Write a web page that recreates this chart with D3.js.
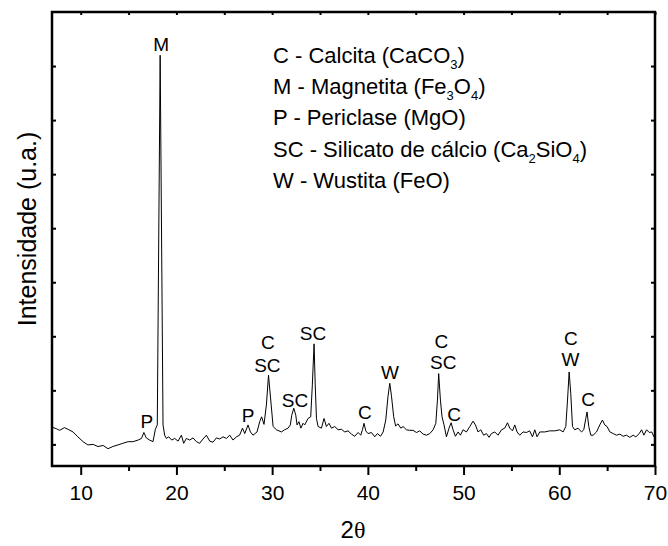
<!DOCTYPE html>
<html>
<head>
<meta charset="utf-8">
<script src="https://cdn.jsdelivr.net/npm/d3@7"></script>
<style>
  html, body { margin: 0; padding: 0; background: #fff; }
  svg { display: block; font-family: "Liberation Sans", Arial, sans-serif; }
</style>
</head>
<body>
<div id="chart"></div>
<script>
// XRD pattern
const twoTheta = [
  7.0, 7.45, 7.8, 8.3, 8.65, 9.2, 9.7, 10.25, 10.75, 11.3, 11.8, 12.35, 12.85, 13.35, 13.9, 14.4,
  14.95, 15.45, 16.0, 16.35, 16.6, 16.85, 17.2, 17.55, 17.8, 18.0, 18.3, 18.6, 18.77, 18.95, 19.2,
  19.5, 19.82, 20.17, 20.52, 20.76, 21.04, 21.39, 21.73, 22.09, 22.43, 22.78, 23.13, 23.48, 23.82,
  24.18, 24.52, 24.87, 25.22, 25.57, 25.91, 26.27, 26.6, 26.9, 27.14, 27.48, 27.73, 28.0, 28.42,
  28.7, 28.9, 29.15, 29.4, 29.62, 29.9, 30.1, 30.45, 30.97, 31.3, 31.66, 31.9, 32.05, 32.26, 32.47,
  32.6, 32.8, 33.0, 33.23, 33.4, 33.75, 34.03, 34.2, 34.38, 34.5, 34.63, 34.8, 35.15, 35.42, 35.67,
  35.94, 36.2, 36.54, 36.89, 37.24, 37.59, 37.93, 38.29, 38.63, 38.98, 39.26, 39.43, 39.6, 39.78,
  40.02, 40.37, 40.72, 41.0, 41.32, 41.6, 41.87, 42.1, 42.29, 42.46, 42.7, 42.9, 43.15, 43.44,
  43.68, 44.03, 44.38, 44.72, 45.08, 45.42, 45.77, 46.12, 46.47, 46.82, 47.1, 47.27, 47.4, 47.58,
  47.75, 47.96, 48.21, 48.48, 48.7, 48.9, 49.15, 49.43, 49.67, 49.95, 50.3, 50.65, 50.99, 51.24,
  51.51, 51.8, 52.1, 52.39, 52.66, 52.91, 53.26, 53.6, 53.96, 54.3, 54.59, 54.83, 55.11, 55.35,
  55.59, 55.87, 56.22, 56.57, 56.9, 57.2, 57.44, 57.68, 57.96, 58.48, 59.0, 59.53, 60.05, 60.4,
  60.68, 60.86, 61.03, 61.2, 61.38, 61.62, 61.96, 62.32, 62.56, 62.77, 62.9, 63.08, 63.29, 63.54,
  63.89, 64.23, 64.51, 64.75, 64.99, 65.29, 65.63, 65.98, 66.33, 66.67, 67.03, 67.37, 67.72, 68.0,
  68.35, 68.6, 68.84, 69.12, 69.4, 69.65, 69.9, 70.0
];
const intensity = [
  32, 29, 26, 31, 28, 23, 14, 5, -1, 0, -4, -2, -8, -4, -1, 2,
  5, 5, 8, 11, 22, 12, 8, 5, 28, 36, 720, 36, 17, 11, 14,
  8, 11, 6, 17, 2, 11, 8, 12, 5, 2, 10, 17, 6, 4,
  12, 10, 14, 11, 17, 8, 14, 17, 30, 20, 36, 23, 17, 23,
  42, 51, 37, 73, 128, 73, 33, 27, 23, 27, 30, 36, 54, 67, 54,
  36, 42, 30, 39, 36, 48, 51, 110, 186, 110, 48, 33, 30, 48, 33,
  39, 30, 33, 27, 28, 23, 25, 19, 15, 22, 17, 27, 39, 25,
  20, 22, 14, 20, 15, 23, 45, 88, 113, 91, 51, 34, 38, 30,
  33, 27, 26, 26, 22, 25, 19, 17, 20, 27, 39, 82, 131, 82,
  51, 36, 14, 30, 40, 27, 15, 23, 17, 27, 23, 33, 43, 36,
  23, 27, 17, 20, 13, 20, 23, 17, 27, 30, 40, 30, 25, 36,
  23, 17, 23, 22, 25, 14, 27, 14, 23, 23, 25, 25, 27, 23,
  33, 82, 134, 94, 33, 27, 30, 23, 27, 48, 60, 33, 17, 17,
  23, 36, 45, 36, 33, 23, 20, 17, 19, 15, 17, 13, 17, 14,
  20, 27, 17, 27, 22, 23, 14, 17
];

// peak labels: text, 2θ, intensity of the label baseline
const peakLabels = ['M', 'P', 'P', 'C', 'SC', 'SC', 'SC', 'C', 'W', 'C', 'SC', 'C', 'C', 'W', 'C'];
const peakTheta  = [18.4, 16.9, 27.48, 29.55, 29.5, 32.38, 34.27, 39.7, 42.3, 47.68, 47.88, 49.0, 61.2, 61.17, 63.0];
const peakLevel  = [728, 30, 41, 176, 134, 69, 193, 47, 121, 178, 139, 43, 184, 145, 71];

// legend lines, "_x" marks a subscript
const legendLines = [
  'C - Calcita (CaCO_3)',
  'M - Magnetita (Fe_3O_4)',
  'P - Periclase (MgO)',
  'SC - Silicato de cálcio (Ca_2SiO_4)',
  'W - Wustita (FeO)'
];

const xMajorTicks = [10, 20, 30, 40, 50, 60, 70];
const xMinorTicks = [15, 25, 35, 45, 55, 65];
const yTicks = [0, 100, 200, 300, 400, 500, 600, 700];

const width = 668, height = 546;
const margin = { top: 12, right: 13, bottom: 80, left: 52 };
const innerW = width - margin.left - margin.right;
const innerH = height - margin.top - margin.bottom;

const svg = d3.select('#chart').append('svg')
  .attr('width', width)
  .attr('height', height);

const g = svg.append('g')
  .attr('transform', `translate(${margin.left},${margin.top})`);

const x = d3.scaleLinear().domain([7, 70]).range([0, innerW]);
const y = d3.scaleLinear().domain([-40, 800]).range([innerH, 0]);

function styleAxis(sel) {
  sel.select('.domain').remove();
  sel.selectAll('line').attr('stroke', '#000').attr('stroke-width', 2);
  sel.selectAll('text')
    .attr('fill', '#000')
    .attr('font-size', '21px')
    .attr('font-family', '"Liberation Sans", Arial, sans-serif');
}

// bottom axis: labelled majors outward, short minors
g.append('g')
  .attr('transform', `translate(0,${innerH})`)
  .call(d3.axisBottom(x).tickValues(xMajorTicks).tickSize(9).tickPadding(10).tickFormat(d3.format('d')))
  .call(styleAxis);

g.append('g')
  .attr('transform', `translate(0,${innerH})`)
  .call(d3.axisBottom(x).tickValues(xMinorTicks).tickSize(5).tickFormat(''))
  .call(styleAxis);

// top axis ticks point inward
g.append('g')
  .call(d3.axisBottom(x).tickValues(xMajorTicks.concat(xMinorTicks)).tickSize(3).tickFormat(''))
  .call(styleAxis);

// left and right axes: inward ticks, no labels
g.append('g')
  .call(d3.axisRight(y).tickValues(yTicks).tickSize(4).tickFormat(''))
  .call(styleAxis);

g.append('g')
  .attr('transform', `translate(${innerW},0)`)
  .call(d3.axisLeft(y).tickValues(yTicks).tickSize(4).tickFormat(''))
  .call(styleAxis);

// the pattern itself
const line = d3.line()
  .x(i => x(twoTheta[i]))
  .y(i => y(intensity[i]));

g.append('path')
  .datum(d3.range(twoTheta.length))
  .attr('fill', 'none')
  .attr('stroke', '#000')
  .attr('stroke-width', 1)
  .attr('stroke-linejoin', 'round')
  .attr('d', line);

// frame
g.append('rect')
  .attr('x', 0)
  .attr('y', 0)
  .attr('width', innerW)
  .attr('height', innerH)
  .attr('fill', 'none')
  .attr('stroke', '#000')
  .attr('stroke-width', 2.5);

// phase labels over the peaks
g.append('g').selectAll('text')
  .data(peakLabels)
  .join('text')
  .attr('x', (d, i) => x(peakTheta[i]))
  .attr('y', (d, i) => y(peakLevel[i]))
  .attr('text-anchor', 'middle')
  .attr('font-size', '19px')
  .attr('fill', '#000')
  .text(d => d);

// legend block
const legend = g.append('g')
  .attr('transform', `translate(${273 - margin.left},${63 - margin.top})`);

legendLines.forEach((txt, i) => {
  const t = legend.append('text')
    .attr('x', 0)
    .attr('y', i * 31.2)
    .attr('font-size', '22px')
    .attr('fill', '#000');
  const parts = txt.split(/(_\d)/).filter(p => p.length);
  let wasSub = false;
  parts.forEach(p => {
    if (p[0] === '_') {
      t.append('tspan').attr('font-size', '13px').attr('dy', 6).text(p.slice(1));
      wasSub = true;
    } else {
      t.append('tspan').attr('dy', wasSub ? -6 : 0).text(p);
      wasSub = false;
    }
  });
});

// axis titles
svg.append('text')
  .attr('x', 353)
  .attr('y', 538)
  .attr('text-anchor', 'middle')
  .attr('font-size', '24px')
  .attr('fill', '#000')
  .call(t => {
    t.append('tspan').text('2');
    t.append('tspan').attr('font-family', '"Liberation Serif", "DejaVu Serif", serif').text('θ');
  });

svg.append('text')
  .attr('transform', 'translate(36,229) rotate(-90)')
  .attr('text-anchor', 'middle')
  .attr('font-size', '25px')
  .attr('fill', '#000')
  .text('Intensidade (u.a.)');
</script>
</body>
</html>
